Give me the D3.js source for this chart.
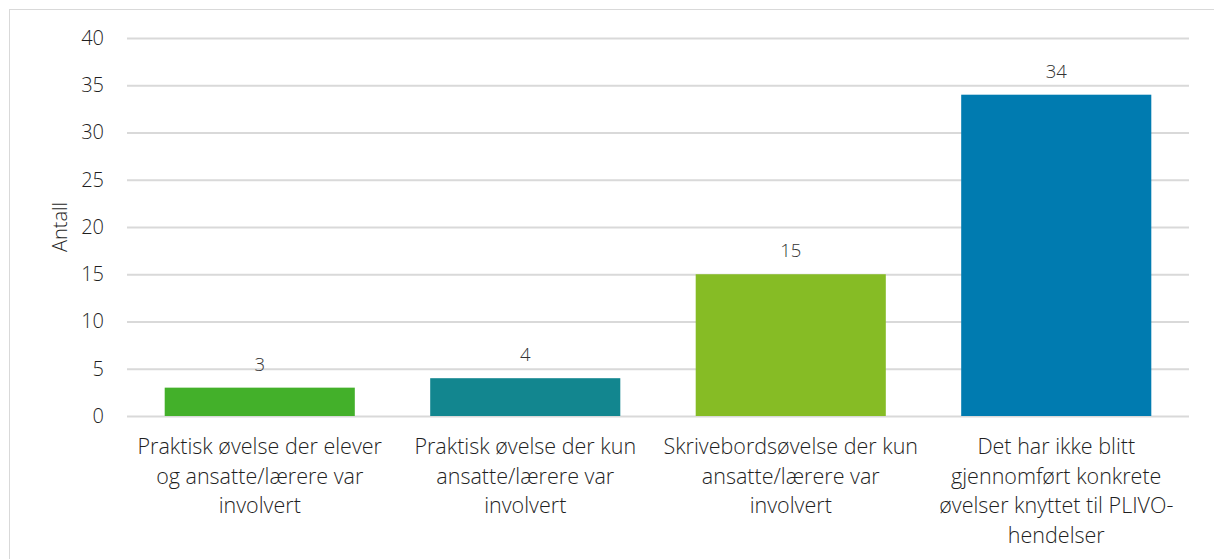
<!DOCTYPE html>
<html>
<head>
<meta charset="utf-8">
<script src="https://cdn.jsdelivr.net/npm/d3@7"></script>
<style>
  body { margin: 0; background: #fff; }
  svg { display: block; font-family: "Open Sans", "Noto Sans", sans-serif; font-weight: 300; }
</style>
</head>
<body>
<svg id="chart"></svg>
<script>
const categories = [
    ["Praktisk øvelse der elever", "og ansatte/lærere var", "involvert"],
    ["Praktisk øvelse der kun", "ansatte/lærere var", "involvert"],
    ["Skrivebordsøvelse der kun", "ansatte/lærere var", "involvert"],
    ["Det har ikke blitt", "gjennomført konkrete", "øvelser knyttet til PLIVO-", "hendelser"]
];
const values = [3, 4, 15, 34];
const barColors = ["#43b02a", "#12868f", "#86bc25", "#007bb0"];
const yTicks = [0, 5, 10, 15, 20, 25, 30, 35, 40];

const W = 1214, H = 559;
const margin = { top: 38, right: 25, bottom: 143, left: 127 };
const width = W - margin.left - margin.right;
const height = H - margin.top - margin.bottom;

let svg = d3.select("#chart").attr("width", W).attr("height", H);

// outer frame
svg.append("rect")
    .attr("x", 9.5).attr("y", 9.5)
    .attr("width", W + 10).attr("height", H + 10)
    .attr("fill", "none")
    .attr("stroke", "#d9d9d9");

let chart = svg.append("g").attr("transform", `translate(${margin.left},${margin.top})`);

let xScale = d3.scaleBand()
    .domain(d3.range(values.length))
    .range([0, width])
    .paddingInner(0.284)
    .paddingOuter(0.142);

let yScale = d3.scaleLinear()
    .domain([0, 40])
    .range([height, 0]);

let yAxis = d3.axisLeft(yScale)
    .tickValues(yTicks)
    .tickSize(-width)
    .tickPadding(23);

chart.append("g")
    .call(yAxis)
    .call(g => g.select(".domain").remove())
    .call(g => g.selectAll("line").attr("stroke", "#d9d9d9").attr("stroke-width", 2))
    .call(g => g.selectAll("text")
        .attr("font-size", 20)
        .attr("fill", "#1f1f1f")
        .attr("font-family", "Open Sans, sans-serif")
        .attr("font-weight", 300));

chart.selectAll(".bar")
    .data(values)
    .join("rect")
    .attr("class", "bar")
    .attr("x", (d, i) => xScale(i))
    .attr("y", d => yScale(d))
    .attr("width", xScale.bandwidth())
    .attr("height", d => yScale(0) - yScale(d))
    .attr("fill", (d, i) => barColors[i]);

chart.selectAll(".val")
    .data(values)
    .join("text")
    .attr("class", "val")
    .attr("x", (d, i) => xScale(i) + xScale.bandwidth() / 2)
    .attr("y", d => yScale(d) - 17)
    .attr("text-anchor", "middle")
    .attr("font-size", 18.5)
    .attr("fill", "#333")
    .text(d => d);

// category labels, wrapped as in the original
let labels = chart.selectAll(".cat")
    .data(categories)
    .join("text")
    .attr("class", "cat")
    .attr("text-anchor", "middle")
    .attr("font-size", 21.5)
    .attr("fill", "#1f1f1f")
    .attr("transform", (d, i) => `translate(${xScale(i) + xScale.bandwidth() / 2},${height + 38})`);

labels.selectAll("tspan")
    .data(d => d)
    .join("tspan")
    .attr("x", 0)
    .attr("dy", (d, j) => j === 0 ? 0 : 29.5)
    .text(d => d);

svg.append("text")
    .attr("transform", `translate(67,${margin.top + height / 2}) rotate(-90)`)
    .attr("text-anchor", "middle")
    .attr("font-size", 20)
    .attr("fill", "#1f1f1f")
    .text("Antall");
</script>
</body>
</html>
